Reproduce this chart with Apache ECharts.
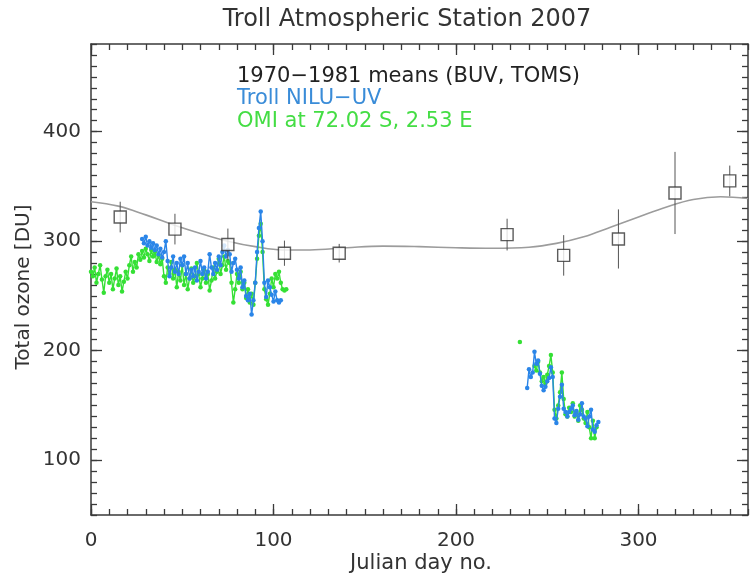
<!DOCTYPE html>
<html><head><meta charset="utf-8">
<script src="https://cdn.jsdelivr.net/npm/echarts@6/dist/echarts.min.js"></script>
<style>html,body{margin:0;padding:0;background:#fff}#c{width:750px;height:574px}</style>
</head><body><div id="c"></div>
<script>
// ---- OMI (green), first segment ----
const omiDayA = [0,1,2,3,4,5,6,7,8,9,10,11,12,13,14,15,16,17,18,19,20,21,22,23,24,25,26,27,28,29,30,31,32,33,34,35,36,37,38,39,40,41,42,43,44,45,46,47,48,49,50,51,52,53,54,55,56,57,58,59,60,61,62,63,64,65,66,67,68,69,70,71,72,73,74,75,76,77,78,79,80,81,82,83,84,85,86,87,88,89,90,91,92,93,94,95,96,97,98,99,100,101,102,103,104,105,106,107];
const omiValA = [272,268,276,262,270,278,265,253,268,274,
  262,270,256,266,275,260,268,254,263,272,
  266,278,286,272,281,276,288,283,291,285,
  293,288,282,292,286,290,281,287,279,284,
  268,262,276,270,281,266,274,258,272,264,
  278,260,270,256,266,275,262,268,280,270,
  258,266,274,262,270,255,264,276,266,272,
  284,270,278,286,274,282,
  280,262,244,256,270,262,272,256,262,248,256,244,252,242,262,
  284,305,316,290,256,247,242,252,266,
  258,270,266,272,262,256,255,256];
// ---- OMI (green), second segment ----
const omiDayC = [235];
const omiValC = [208];
const omiDayB = [243,244,245,246,247,248,249,250,251,252,253,254,255,256,257,258,259,260,261,262,263,264,265,266,267,268,269,270,271,272,273,274,275,276,277];
const omiValB = [186,182,190,180,172,176,170,178,186,196,
  180,146,138,150,162,180,156,142,140,148,
  144,152,140,144,136,150,146,138,134,144,
  130,120,136,120,130];
// ---- Troll NILU-UV (blue) ----
const nlDayA = [28,29,30,31,32,33,34,35,36,37,38,39,40,41,42,43,44,45,46,47,48,49,50,51,52,53,54,55,56,57,58,59,60,61,62,63,64,65,66,67,68,69,70,71,72,73,74,75,76,77,78,79,80,81,82,83,84,85,86,87,88,89,90,91,92,93,94,95,96,97,98,99,100,101,102,103,104];
const nlValA = [302,298,304,296,300,294,298,292,296,288,293,285,
  290,300,282,268,276,286,272,280,270,284,
  278,286,270,280,266,274,268,276,264,272,
  282,270,276,266,272,288,276,270,280,274,
  286,278,290,296,286,292,
  288,272,280,284,274,266,276,258,264,250,246,252,233,246,262,
  290,312,327,300,262,249,264,258,251,
  245,254,246,244,246];
const nlDayB = [239,240,241,242,243,244,245,246,247,248,249,250,251,252,253,254,255,256,257,258,259,260,261,262,263,264,265,266,267,268,269,270,271,272,273,274,275,276,277,278];
const nlValB = [166,183,176,180,199,188,191,179,168,164,
  167,172,175,185,176,138,134,147,158,169,
  147,144,140,144,147,150,141,145,137,142,
  152,140,138,131,140,146,128,126,132,135];
// ---- 1970-1981 monthly means with error bars ----
const meanDay = [16,46,75,106,136,228,259,289,320,350];
const meanVal = [322,311,297,289,289,306,287,302,344,355];
const meanErr = [14,14,14.5,11.5,8.5,14.5,18.5,27,37.5,14];
// ---- smooth climatology curve ----
const curveDay = [0,15,30,45,60,75,90,105,120,140,160,180,200,220,240,255,270,285,300,315,330,345,360];
const curveVal = [336,332,324,315,307,300,295,292,292,294,295.5,295,294,293.5,294.5,298,304,313,322,331,338,340.5,339];
// ---- axis ticks ----
const xMajor = [0,100,200,300];
const yMajor = [100,200,300,400];

const FONT = 'DejaVu Sans';
const AX = '#3a3a3a';
const TXT = '#333';
const BLUE = '#2a85e8';
const GREEN = '#35e035';

function pairs(d, v) { return d.map((x, i) => [x, v[i]]); }

function xAxis(pos, major, labels) {
  const a = {
    type: 'value', position: pos, min: 0, max: 360, interval: 10,
    axisLine: { show: !major, onZero: false, lineStyle: { color: AX, width: 1.5 } },
    axisTick: { show: true, inside: true, length: major ? 11 : 6, lineStyle: { color: AX, width: 1.3 } },
    axisLabel: { show: false },
    splitLine: { show: false }
  };
  if (major) a.axisTick.customValues = xMajor;
  if (labels) {
    a.axisLabel = { show: true, customValues: xMajor, fontFamily: FONT, fontSize: 20, color: TXT, margin: 16 };
  }
  return a;
}
function yAxis(pos, major, labels) {
  const a = {
    type: 'value', position: pos, min: 50, max: 480, interval: 10,
    axisLine: { show: !major, onZero: false, lineStyle: { color: AX, width: 1.5 } },
    axisTick: { show: true, inside: true, length: major ? 11 : 6, lineStyle: { color: AX, width: 1.3 } },
    axisLabel: { show: false },
    splitLine: { show: false }
  };
  if (major) a.axisTick.customValues = yMajor;
  if (labels) {
    a.axisLabel = { show: true, customValues: yMajor, fontFamily: FONT, fontSize: 20, color: TXT, margin: 10 };
  }
  return a;
}

function dataLine(name, d, v, color, z) {
  return {
    name, type: 'line', xAxisIndex: 0, yAxisIndex: 0, data: pairs(d, v),
    symbol: 'circle', symbolSize: 4.5, showSymbol: true,
    lineStyle: { color, width: 1.4 }, itemStyle: { color }, z, animation: false
  };
}

const chart = echarts.init(document.getElementById('c'), null, { renderer: 'canvas' });
chart.setOption({
  animation: false,
  backgroundColor: '#fff',
  grid: { left: 91, right: 2, top: 44, bottom: 59, containLabel: false, outerBoundsMode: 'none' },
  xAxis: [xAxis('bottom', false, true), xAxis('bottom', true, false), xAxis('top', false, false), xAxis('top', true, false)],
  yAxis: [yAxis('left', false, true), yAxis('left', true, false), yAxis('right', false, false), yAxis('right', true, false)],
  graphic: [
    { type: 'text', x: 407, y: 20, style: { text: 'Troll Atmospheric Station 2007', fontFamily: FONT, fontSize: 24, fill: TXT, align: 'center', verticalAlign: 'middle' } },
    { type: 'text', x: 237, y: 77, style: { text: '1970\u22121981 means (BUV, TOMS)', fontFamily: FONT, fontSize: 21, fill: '#222', verticalAlign: 'middle' } },
    { type: 'text', x: 237, y: 99, style: { text: 'Troll NILU\u2212UV', fontFamily: FONT, fontSize: 21, fill: '#3a8cd8', verticalAlign: 'middle' } },
    { type: 'text', x: 237, y: 122, style: { text: 'OMI at 72.02 S, 2.53 E', fontFamily: FONT, fontSize: 21, fill: '#44dd44', verticalAlign: 'middle' } },
    { type: 'text', x: 24, y: 287, rotation: Math.PI / 2, style: { text: 'Total ozone [DU]', fontFamily: FONT, fontSize: 20, fill: TXT, align: 'center', verticalAlign: 'middle' } },
    { type: 'text', x: 421, y: 564, style: { text: 'Julian day no.', fontFamily: FONT, fontSize: 21, fill: TXT, align: 'center', verticalAlign: 'middle' } }
  ],
  series: [
    {
      name: 'curve', type: 'line', xAxisIndex: 0, yAxisIndex: 0, data: pairs(curveDay, curveVal),
      smooth: 0.4, showSymbol: false, lineStyle: { color: '#9c9c9c', width: 1.6 }, z: 1
    },
    dataLine('OMI a', omiDayA, omiValA, GREEN, 2),
    dataLine('OMI b', omiDayB, omiValB, GREEN, 2),
    dataLine('OMI c', omiDayC, omiValC, GREEN, 2),
    dataLine('NILU a', nlDayA, nlValA, BLUE, 3),
    dataLine('NILU b', nlDayB, nlValB, BLUE, 3),
    {
      name: 'err', type: 'custom', xAxisIndex: 0, yAxisIndex: 0,
      data: meanDay.map((d, i) => [d, meanVal[i] - meanErr[i], meanVal[i] + meanErr[i]]),
      encode: { x: 0, y: [1, 2] },
      renderItem: function (params, api) {
        const lo = api.coord([api.value(0), api.value(1)]);
        const hi = api.coord([api.value(0), api.value(2)]);
        return { type: 'line', shape: { x1: lo[0], y1: lo[1], x2: hi[0], y2: hi[1] }, style: { stroke: '#555', lineWidth: 1 } };
      },
      z: 4
    },
    {
      name: 'means', type: 'scatter', xAxisIndex: 0, yAxisIndex: 0, data: pairs(meanDay, meanVal),
      symbol: 'rect', symbolSize: 12,
      itemStyle: { color: '#fff', borderColor: '#333', borderWidth: 1.4 }, z: 5
    }
  ]
});
</script></body></html>
